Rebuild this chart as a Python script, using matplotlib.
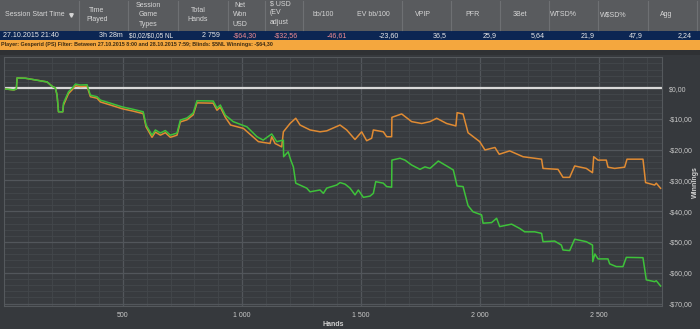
import matplotlib.pyplot as plt
from matplotlib.patches import Rectangle
from matplotlib.ticker import MultipleLocator, FixedLocator, FixedFormatter

plt.rcParams['font.family'] = ['Liberation Sans', 'DejaVu Sans']
plt.rcParams['text.parse_math'] = False

# header table
head_cols = ["Session Start Time", "Time\nPlayed", "Session\nGame\nTypes", "Total\nHands",
             "Net\nWon\nUSD", "$ USD\n(EV\nadjust", "bb/100", "EV bb/100", "VPIP", "PFR",
             "3Bet", "WTSD%", "W$SD%", "Agg"]
row_vals = ["27.10.2015 21:40", "3h 28m", "$0,02/$0,05 NL", "2 759", "-$64,30", "-$32,56",
            "-46,61", "-23,60", "36,5", "25,9", "5,64", "21,9", "47,9", "2,24"]
filter_text = "Player: Gesperid (PS) Filter: Between 27.10.2015 8:00 and 28.10.2015 7:59; Blinds: $5NL Winnings: -$64,30"

# winnings curve (green)
hands_won = [8, 41, 52, 55, 90, 181, 202, 216, 223, 229, 247, 250, 271, 287, 300, 321, 349, 363,
             391, 405, 447, 496, 543, 585, 597, 622, 636, 657, 678, 699, 727, 741, 769, 795,
             811, 879, 895, 909, 930, 963, 1021, 1063, 1089, 1125, 1146, 1174, 1175, 1194, 1205,
             1216, 1226, 1272, 1286, 1328, 1342, 1356, 1398, 1412, 1433, 1454, 1475, 1489, 1510,
             1538, 1552, 1562, 1594, 1608, 1629, 1630, 1664, 1685, 1713, 1748, 1769, 1790, 1825,
             1860, 1888, 1904, 1929, 1950, 1971, 2007, 2013, 2049, 2070, 2083, 2133, 2167, 2188,
             2230, 2259, 2265, 2314, 2342, 2349, 2377, 2398, 2447, 2473, 2474, 2483, 2496, 2538,
             2545, 2573, 2601, 2615, 2685, 2699, 2734, 2741, 2759]
won_usd = [-0.3, -0.6, -0.3, 3.3, 3.2, 2.0, 0.6, 0.0, -2.3, -7.7, -7.7, -4.9, -1.2, 0.0, 1.3, 1.0,
           1.1, -2.3, -2.8, -3.9, -4.9, -6.1, -6.9, -7.7, -12.0, -15.3, -13.6, -14.6, -13.8, -15.3,
           -14.6, -10.4, -9.7, -8.1, -4.1, -4.2, -6.5, -5.5, -8.8, -10.9, -12.6, -15.8, -16.9,
           -14.9, -17.4, -16.9, -22.3, -20.7, -23.4, -25.6, -30.9, -32.5, -33.7, -33.1, -34.2,
           -32.5, -31.5, -30.7, -31.2, -32.5, -34.7, -33.1, -35.5, -35.1, -34.2, -30.4, -30.9,
           -32.0, -32.2, -23.4, -22.8, -23.4, -25.0, -26.4, -25.6, -26.1, -23.7, -25.3, -26.6,
           -31.8, -32.0, -38.2, -40.2, -41.2, -43.9, -43.7, -42.3, -45.0, -44.2, -45.6, -46.7,
           -46.7, -47.2, -49.9, -49.7, -51.0, -52.6, -52.8, -49.1, -49.9, -51.0, -56.4, -53.9,
           -55.5, -55.5, -57.1, -58.0, -58.0, -55.0, -55.1, -62.3, -62.9, -62.6, -64.3]

# all-in EV adjusted curve (orange)
hands_ev = [8, 41, 52, 55, 90, 181, 202, 216, 223, 229, 247, 250, 271, 287, 300, 321, 349, 363,
            391, 405, 447, 496, 543, 585, 597, 622, 636, 657, 678, 699, 727, 741, 769, 795, 811,
            879, 895, 909, 930, 952, 1006, 1069, 1118, 1125, 1139, 1167, 1174, 1202, 1226, 1244,
            1286, 1328, 1356, 1412, 1440, 1475, 1503, 1524, 1545, 1552, 1594, 1608, 1629, 1630,
            1671, 1713, 1755, 1790, 1818, 1860, 1899, 1904, 1929, 1950, 1999, 2021, 2063, 2081,
            2125, 2181, 2259, 2265, 2328, 2349, 2377, 2398, 2447, 2473, 2478, 2496, 2531, 2538,
            2566, 2608, 2618, 2685, 2696, 2734, 2741, 2759]
ev_usd = [-0.3, -0.6, -0.3, 3.3, 3.2, 2.0, 0.6, 0.0, -2.3, -7.7, -7.7, -5.5, -1.8, -0.5, 0.8, 0.5,
          0.6, -2.8, -3.3, -4.5, -5.5, -6.7, -7.5, -8.3, -12.6, -16.0, -14.3, -15.3, -14.5, -16.0,
          -15.3, -11.0, -10.3, -8.7, -4.8, -4.9, -7.2, -6.2, -9.5, -12.0, -13.1, -17.4, -18.0,
          -15.8, -18.0, -19.1, -14.2, -11.5, -9.8, -12.0, -13.6, -14.2, -13.9, -12.0, -13.6,
          -16.7, -14.2, -17.1, -16.3, -13.6, -14.2, -15.8, -15.8, -9.5, -8.4, -10.9, -11.5,
          -10.9, -9.8, -11.5, -12.3, -8.0, -8.4, -14.5, -17.4, -20.1, -19.3, -21.5, -20.4, -22.3,
          -23.1, -26.1, -26.4, -29.0, -29.0, -25.3, -26.1, -27.5, -22.3, -23.4, -23.4, -25.7,
          -26.1, -25.7, -23.1, -23.1, -30.7, -31.5, -30.9, -32.56]

x_ticks = [500, 1000, 1500, 2000, 2500]
x_tick_labels = ["500", "1 000", "1 500", "2 000", "2 500"]
y_ticks = [0, -10, -20, -30, -40, -50, -60, -70]
y_tick_labels = ["$0,00", "-$10,00", "-$20,00", "-$30,00", "-$40,00", "-$50,00", "-$60,00", "-$70,00"]

W, H = 700, 329
fig = plt.figure(figsize=(7, 3.29), dpi=100)
fig.patch.set_facecolor('#36393d')

# ---- header strip, drawn in pixel coords
hd = fig.add_axes([0, 1 - 55 / H, 1, 55 / H])
hd.set_xlim(0, W)
hd.set_ylim(55, 0)
hd.axis('off')
hd.add_patch(Rectangle((0, 0), W, 30.5, color='#595b5e', lw=0))
hd.add_patch(Rectangle((0, 30.5), W, 9.5, color='#0c2653', lw=0))
hd.add_patch(Rectangle((0, 40), W, 9.5, color='#f4a73e', lw=0))
hd.add_patch(Rectangle((0, 49.5), W, 6, color='#2f3134', lw=0))
for sx in [79, 128, 178, 228, 265, 303, 402, 451, 500, 549, 598, 648, 697]:
    hd.plot([sx, sx], [1, 30], color='#6e7073', lw=0.8)

head_x = [35, 97, 148, 198, 240, 270, 313, 357, 415, 465, 513, 550, 600, 660]
head_y = [15, 15, 15, 15, 15, 13, 15, 15, 15, 15, 15, 15, 15, 15]
for i, t in enumerate(head_cols):
    ha = 'center' if i < 5 else 'left'
    hd.text(head_x[i], head_y[i], t, color='#d6d6d6', fontsize=5.0, ha=ha, va='center',
            linespacing=1.45)
hd.plot([71], [15], marker='v', ms=2.5, color='#d6d6d6')

val_x = [3, 123, 173, 220, 257, 298, 347, 399, 447, 497, 545, 595, 643, 692]
for i, t in enumerate(row_vals):
    fs = 4.7 if i == 2 else 5.1
    if i == 0:
        hd.text(val_x[i], 35.3, t, color='#e8e8e8', fontsize=fs, ha='left', va='center')
    else:
        col = '#ee8a92' if i in (4, 5, 6) else '#e8e8e8'
        hd.text(val_x[i], 35.3, t, color=col, fontsize=fs, ha='right', va='center')
hd.text(1, 44.6, filter_text, color='#3b2a12', fontsize=3.9, fontweight='bold',
        ha='left', va='center')

# ---- main chart
ax = fig.add_axes([4 / W, (H - 306) / H, 658 / W, 249 / H])
ax.set_facecolor('#383b3f')
ax.set_xlim(0, 2765)
ax.set_ylim(-70.8, 10.1)

ax.xaxis.set_major_locator(FixedLocator(x_ticks))
ax.xaxis.set_major_formatter(FixedFormatter(x_tick_labels))
ax.xaxis.set_minor_locator(MultipleLocator(100))
ax.yaxis.set_major_locator(FixedLocator(y_ticks))
ax.yaxis.set_major_formatter(FixedFormatter(y_tick_labels))
ax.yaxis.set_minor_locator(MultipleLocator(2))
ax.yaxis.tick_right()
ax.grid(which='major', color='#52565b', lw=0.9)
ax.grid(which='minor', color='#43474b', lw=0.6)
ax.set_axisbelow(True)
ax.tick_params(which='both', length=0, colors='#c9c9c9', labelsize=5)
ax.tick_params(axis='y', pad=5)
ax.tick_params(axis='x', pad=4)
for s in ax.spines.values():
    s.set_color('#55595d')
    s.set_linewidth(0.8)

ax.axhline(0, color='#d9d9d9', lw=1.6, zorder=2)
ax.plot(hands_ev, ev_usd, color='#e08b33', lw=1.1, zorder=3)
ax.plot(hands_won, won_usd, color='#3ec23a', lw=1.1, zorder=4)

fig.text(333 / W, 1 - 325 / H, "Hands", color='#d0d0d0', fontsize=5, fontweight='bold',
         ha='center', va='center')
fig.text(695 / W, 1 - 182 / H, "Winnings", color='#d0d0d0', fontsize=5, fontweight='bold',
         rotation=90, ha='center', va='center')

fig.savefig('out.png', dpi=100, facecolor=fig.get_facecolor())
